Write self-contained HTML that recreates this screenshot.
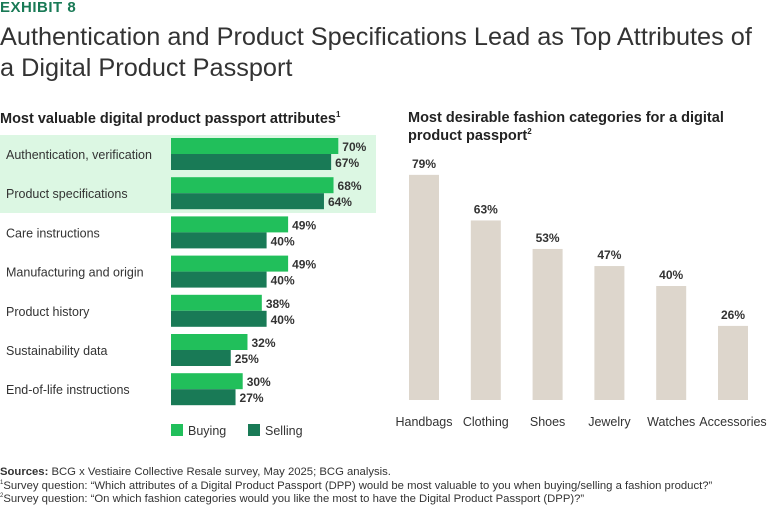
<!DOCTYPE html>
<html><head><meta charset="utf-8"><style>
body{margin:0;width:768px;height:508px;background:#fff;font-family:"Liberation Sans",sans-serif;color:#222;position:relative;overflow:hidden}
.a{position:absolute;white-space:nowrap}
</style></head><body>
<div class="a" style="left:0;top:-1px;font-size:15px;font-weight:bold;color:#197a56;letter-spacing:0.5px">EXHIBIT 8</div>
<div class="a" style="left:0;top:22px;font-size:25.3px;line-height:31px;color:#333">Authentication and Product Specifications Lead as Top Attributes of<br>a Digital Product Passport</div>
<div class="a" style="left:0;top:110px;font-size:14.5px;font-weight:bold">Most valuable digital product passport attributes<sup style="font-size:8px">1</sup></div>
<div class="a" style="left:408px;top:109px;font-size:14.5px;font-weight:bold;line-height:18px;white-space:normal;width:360px">Most desirable fashion categories for a digital product passport<sup style="font-size:8px;line-height:0">2</sup></div>
<svg class="a" style="left:0;top:0" width="768" height="508" id="svg"></svg>
<div class="a" style="left:0;top:466px;font-size:11.3px;line-height:13.5px;color:#333">
<b>Sources:</b> BCG x Vestiaire Collective Resale survey, May 2025; BCG analysis.<br>
<sup style="font-size:6px;line-height:0">1</sup>Survey question: “Which attributes of a Digital Product Passport (DPP) would be most valuable to you when buying/selling a fashion product?”<br>
<sup style="font-size:6px;line-height:0">2</sup>Survey question: “On which fashion categories would you like the most to have the Digital Product Passport (DPP)?”</div>
<script>
const attrs=["Authentication, verification","Product specifications","Care instructions","Manufacturing and origin","Product history","Sustainability data","End-of-life instructions"];
const buying=[70,68,49,49,38,32,30];
const selling=[67,64,40,40,40,25,27];
const cats=["Handbags","Clothing","Shoes","Jewelry","Watches","Accessories"];
const catVals=[79,63,53,47,40,26];
const svg=document.getElementById('svg');
const NS='http://www.w3.org/2000/svg';
function mk(t,a,txt){const e=document.createElementNS(NS,t);for(const k in a)e.setAttribute(k,a[k]);if(txt!==undefined)e.textContent=txt;svg.appendChild(e);return e;}
const hx=v=>v*2.39, gy=i=>138+i*39.2;
let hl=mk('rect',{x:0,y:135,width:376,height:78,fill:'#dcf7e3'});


attrs.forEach((n,i)=>{
 const y=gy(i);
 let t=mk('text',{x:6,y:y+21,'font-size':12.5,fill:'#333'},n);
 
 
 let b=mk('rect',{x:171,y:y,width:hx(buying[i]),height:16,fill:'#21bf5b'});
 
 
 let s=mk('rect',{x:171,y:y+16,width:hx(selling[i]),height:16,fill:'#197a56'});
 
 
 let l1=mk('text',{x:171+hx(buying[i])+4,y:y+13,'font-size':12,'font-weight':'bold',fill:'#333'},buying[i]+'%');
 
 
 let l2=mk('text',{x:171+hx(selling[i])+4,y:y+29,'font-size':12,'font-weight':'bold',fill:'#333'},selling[i]+'%');
 
 
});
[["Buying","#21bf5b",171],["Selling","#197a56",248]].forEach(([n,c,x])=>{
 let r=mk('rect',{x:x,y:424,width:12,height:12,fill:c});
 
 
 let t=mk('text',{x:x+17,y:435,'font-size':12.5,fill:'#333'},n);
 
 
});
const base=400, vy=v=>v*2.85, cx=i=>424+i*61.8;
cats.forEach((c,i)=>{
 const h=vy(catVals[i]);
 let r=mk('rect',{x:cx(i)-15,y:base-h,width:30,height:h,fill:'#ddd6cc'});
 
 
 let v=mk('text',{x:cx(i),y:base-h-7,'font-size':12,'font-weight':'bold',fill:'#333','text-anchor':'middle'},catVals[i]+'%');
 
 
 let t=mk('text',{x:cx(i),y:426,'font-size':12.5,fill:'#333','text-anchor':'middle'},c);
 
 
});
</script>
</body></html>
